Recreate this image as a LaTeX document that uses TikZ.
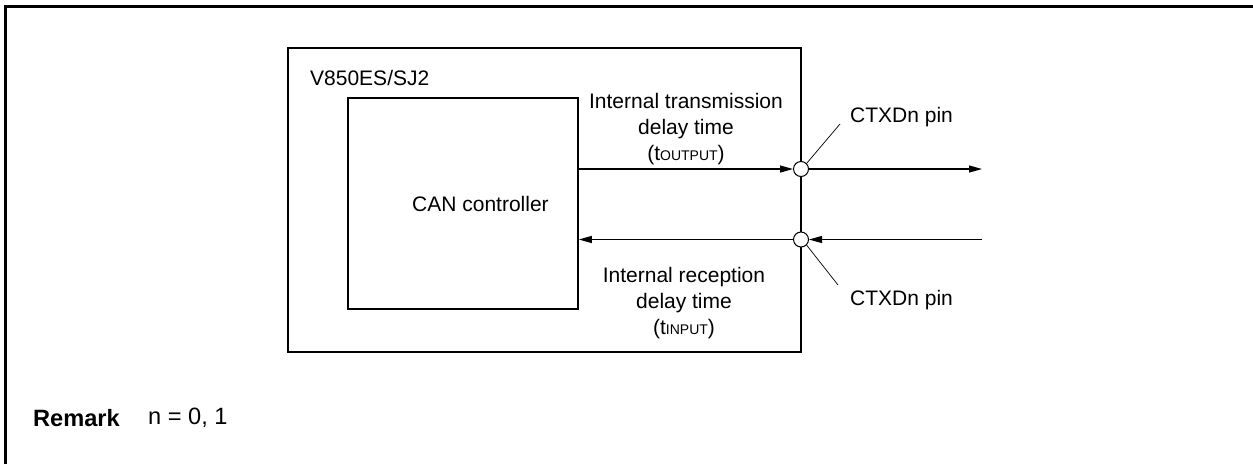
\documentclass[tikz,border=0pt]{standalone}
\usepackage{fontspec}
\setmainfont{Liberation Sans}
\usetikzlibrary{positioning,arrows.meta}

\newcommand{\subcap}[1]{{\fontsize{14}{14}\selectfont #1}}

\begin{document}
\begin{tikzpicture}[
    x=1pt, y=-1pt,
    font=\fontsize{21}{26}\selectfont,
    box/.style={draw, line width=1.6pt, inner sep=0pt},
    pinpt/.style={circle, draw, fill=white, line width=1pt, minimum size=15pt,
                  inner sep=0pt},
    lbl/.style={align=center, inner sep=0pt},
    sig/.style={-{Triangle[length=13pt, width=7pt]}, line width=1.2pt},
    lead/.style={line width=0.7pt},
  ]

  \useasboundingbox (0,0) rectangle (1253,464);

  % --- Page frame ---------------------------------------------------------
  \draw[line width=2.8pt] (5.5,464) -- (5.5,6.5) -- (1253,6.5);

  % --- Device and controller ----------------------------------------------
  \node[box, minimum width=513pt, minimum height=304pt] (chip) at (544.5,200) {};
  \node[lbl, anchor=west] (chipname) at (310,78) {V850ES/SJ2};
  \node[box, minimum width=230pt, minimum height=211pt] (can) at (463,203.5) {};
  \node[lbl] (canname) at (480.5,204) {CAN controller};

  % --- Pins ----------------------------------------------------------------
  \node[pinpt] (txpin) at (801,169) {};
  \node[pinpt] (rxpin) at (801,239.5) {};
  \coordinate (txout) at (982,169);
  \coordinate (rxin)  at (982,239.5);

  \node[lbl, anchor=west] (txname) at (850,117) {CTXDn pin};
  \node[lbl, anchor=west] (rxname) at (850,300) {CTXDn pin};

  % --- Delay labels --------------------------------------------------------
  \node[lbl] (txdelay) at (686,129)
    {Internal transmission\\delay time\\(t\subcap{OUTPUT})};
  \node[lbl] (rxdelay) at (684,303)
    {Internal reception\\delay time\\(t\subcap{INPUT})};

  % --- Remark --------------------------------------------------------------
  \node[lbl, anchor=west, font=\fontsize{23.6}{28}\selectfont\bfseries]
    (remark) at (33,418) {Remark};
  \node[lbl, anchor=west, font=\fontsize{23.6}{28}\selectfont]
    (remarktext) at (148,418) {n = 0, 1};

  % --- Signals -------------------------------------------------------------
  \draw[sig] (can.east |- txpin) -- (txpin.west);
  \draw[sig] (txpin.east) -- (txout);
  \draw[sig] (rxin) -- (rxpin.east);
  \draw[sig] (rxpin.west) -- (can.east |- rxpin);

  \draw[lead] (txpin.north east) -- (840,124);
  \draw[lead] (rxpin.south east) -- (838,285);

\end{tikzpicture}
\end{document}
